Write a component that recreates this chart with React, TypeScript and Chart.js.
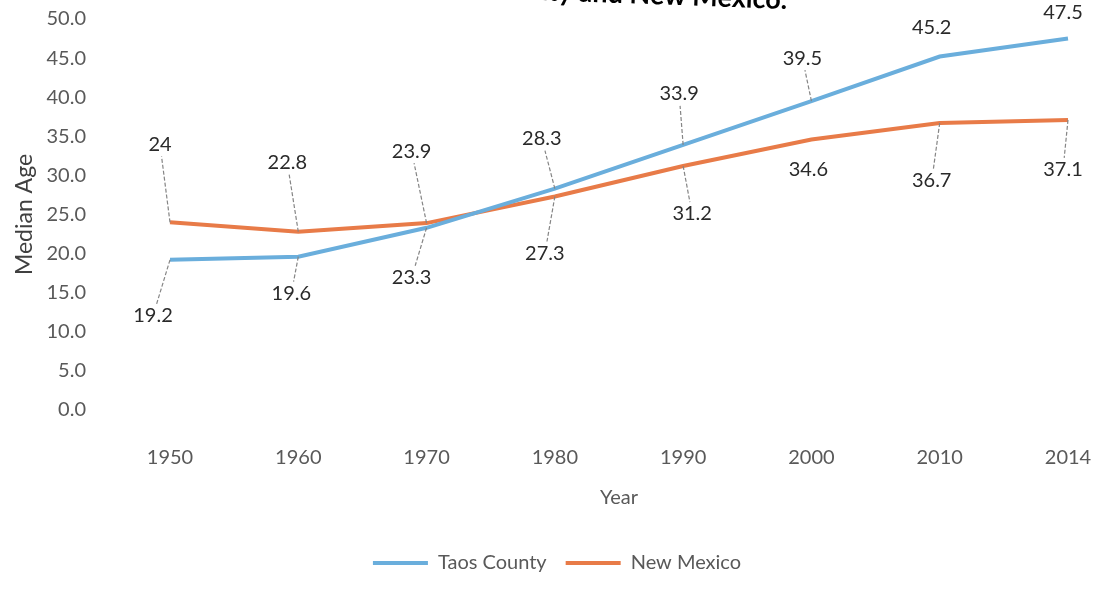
import React, { useEffect, useRef } from "react";
import { Chart, registerables } from "chart.js";

Chart.register(...registerables);

// Census years shown on the category axis
const years: string[] = ["1950", "1960", "1970", "1980", "1990", "2000", "2010", "2014"];
// Median age per year
const taosCounty: number[] = [19.2, 19.6, 23.3, 28.3, 33.9, 39.5, 45.2, 47.5];
const newMexico: number[] = [24, 22.8, 23.9, 27.3, 31.2, 34.6, 36.7, 37.1];
// Value axis range
const yMin = 0;
const yMax = 50;
const yStep = 5;

const seriesNames: string[] = ["Taos County", "New Mexico"];
const chartTitle = "Median Age of Taos County and New Mexico.";
const yAxisTitle = "Median Age";
const xAxisTitle = "Year";

// ---- styling ----
const FONT = "Lato, 'Liberation Sans', sans-serif";
const TAOS_BLUE = "#6aaedc";
const NM_ORANGE = "#e87b48";
const AXIS_TEXT = "#595959";
const LABEL_TEXT = "#2a2a2a";

const CANVAS_W = 1103;
const CANVAS_H = 623;
const CROP_TOP = 30; // the title sits mostly above the visible page
const TITLE_RIGHT = 787;
const TITLE_TILT = 0.036; // radians

// where each value label sits relative to its point, [dx, dy] in px
const labelShift: number[][][] = [
  [[-17, 56], [-7, 37], [-15, 50], [-13, -50], [-4, -51], [-9, -43], [-8, -29], [-5, -26]],
  [[-10, -78], [-11, -69], [-15, -72], [-10, 57], [9, 48], [-3, 30], [-8, 58], [-5, 50]],
];

const valueLabels = {
  id: "valueLabels",
  beforeDraw(chart: any) {
    const ctx = chart.ctx;
    ctx.save();
    ctx.translate(TITLE_RIGHT, CROP_TOP + 9);
    ctx.rotate(TITLE_TILT);
    ctx.font = `bold 27px ${FONT}`;
    ctx.fillStyle = "#000000";
    ctx.textAlign = "right";
    ctx.textBaseline = "alphabetic";
    ctx.fillText(chartTitle, 0, 0);
    ctx.restore();
  },
  afterDatasetsDraw(chart: any) {
    const ctx = chart.ctx;
    ctx.save();
    ctx.font = `20px ${FONT}`;
    ctx.textAlign = "center";
    ctx.textBaseline = "middle";
    chart.data.datasets.forEach((ds: any, di: number) => {
      const meta = chart.getDatasetMeta(di);
      meta.data.forEach((pt: any, i: number) => {
        const [dx, dy] = labelShift[di][i];
        const lx = pt.x + dx;
        const ly = pt.y + dy;
        if (Math.abs(dy) > 32) {
          // leader line from the point to the label's edge
          const endY = ly - Math.sign(dy) * 12;
          const t = (endY - pt.y) / dy;
          const endX = pt.x + dx * t;
          ctx.strokeStyle = "#858585";
          ctx.lineWidth = 1.2;
          ctx.setLineDash([4, 2]);
          ctx.beginPath();
          ctx.moveTo(pt.x, pt.y);
          ctx.lineTo(endX, endY);
          ctx.stroke();
          ctx.setLineDash([]);
        }
        ctx.fillStyle = LABEL_TEXT;
        ctx.fillText(String(ds.data[i]), lx, ly);
      });
    });
    ctx.restore();
  },
};

export default function App() {
  const canvasRef = useRef<HTMLCanvasElement | null>(null);

  useEffect(() => {
    if (!canvasRef.current) return;
    Chart.defaults.font.family = FONT;
    const chart = new Chart(canvasRef.current, {
      type: "line",
      data: {
        labels: years,
        datasets: [
          {
            label: seriesNames[0],
            data: taosCounty,
            borderColor: TAOS_BLUE,
            backgroundColor: TAOS_BLUE,
            borderWidth: 4,
            pointRadius: 0,
            tension: 0,
            fill: false,
          },
          {
            label: seriesNames[1],
            data: newMexico,
            borderColor: NM_ORANGE,
            backgroundColor: NM_ORANGE,
            borderWidth: 4,
            pointRadius: 0,
            tension: 0,
            fill: false,
          },
        ],
      },
      options: {
        responsive: false,
        animation: false,
        devicePixelRatio: 1,
        layout: { padding: { top: 49, right: 35, bottom: 10, left: 46 } },
        plugins: {
          title: { display: false },
          tooltip: { enabled: false },
          legend: {
            display: true,
            position: "bottom",
            labels: {
              usePointStyle: true,
              pointStyle: "line",
              pointStyleWidth: 55,
              padding: 19,
              color: AXIS_TEXT,
              font: { size: 20, family: FONT },
            },
          },
        },
        scales: {
          x: {
            type: "category",
            offset: false,
            grid: { display: false, drawTicks: false },
            border: { display: false },
            ticks: { color: AXIS_TEXT, padding: 36, font: { size: 20 }, maxRotation: 0 },
            title: {
              display: true,
              text: xAxisTitle,
              color: AXIS_TEXT,
              font: { size: 20 },
              padding: { top: 0, bottom: 24 },
            },
            afterFit: (s: any) => {
              s.height = 124;
              s.paddingLeft = 0;
              s.paddingRight = 0;
            },
          },
          y: {
            min: yMin,
            max: yMax,
            grid: { display: false, drawTicks: false },
            border: { display: false },
            ticks: {
              stepSize: yStep,
              color: AXIS_TEXT,
              padding: 84,
              font: { size: 20 },
              callback: (v: any) => Number(v).toFixed(1),
            },
            title: {
              display: true,
              text: yAxisTitle,
              color: "#404040",
              font: { size: 23 },
              padding: { top: -34.8, bottom: 0 },
            },
            afterFit: (s: any) => {
              s.width = 124;
              s.paddingTop = 0;
              s.paddingBottom = 0;
            },
          },
        },
      },
      plugins: [valueLabels],
    });
    return () => chart.destroy();
  }, []);

  return (
    <div
      style={{
        position: "fixed",
        left: 0,
        top: -CROP_TOP,
        width: CANVAS_W,
        height: CANVAS_H,
        background: "#ffffff",
      }}
    >
      <canvas ref={canvasRef} width={CANVAS_W} height={CANVAS_H} />
    </div>
  );
}
